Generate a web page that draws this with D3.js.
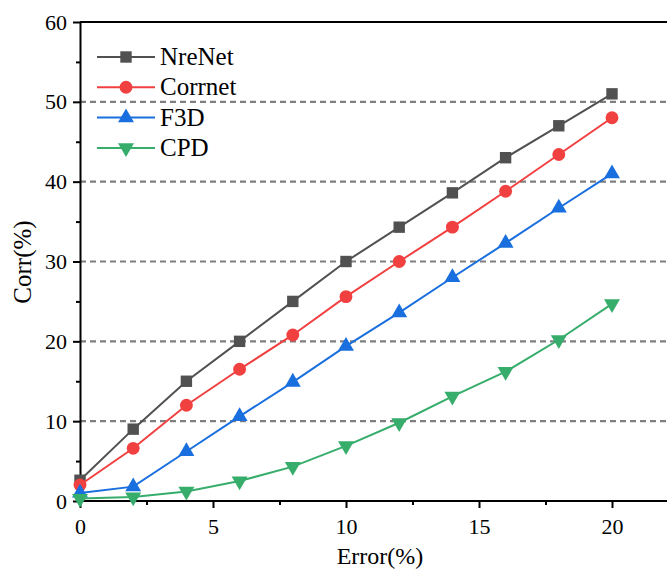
<!DOCTYPE html>
<html>
<head>
<meta charset="utf-8">
<script src="https://cdn.jsdelivr.net/npm/d3@7"></script>
<style>
  body { margin: 0; background: #fff; }
  svg text { font-family: "Liberation Serif", "Times New Roman", serif; fill: #000; }
</style>
</head>
<body>
<div class="chart"></div>
<script>
// values
let errors = [0, 2, 4, 6, 8, 10, 12, 14, 16, 18, 20];
let nrenet = [2.6, 9, 15, 20, 25, 30, 34.3, 38.6, 43, 47, 51];
let corrnet = [2, 6.6, 12, 16.5, 20.8, 25.6, 30, 34.3, 38.8, 43.4, 48];
let f3d = [1, 1.8, 6.2, 10.6, 14.9, 19.4, 23.6, 28, 32.3, 36.7, 41];
let cpd = [0.3, 0.5, 1.2, 2.5, 4.3, 6.9, 9.8, 13.1, 16.2, 20.2, 24.7];
let seriesNames = ["NreNet", "Corrnet", "F3D", "CPD"];
let xTicks = [0, 5, 10, 15, 20];
let yTicks = [0, 10, 20, 30, 40, 50, 60];
let gridVals = [10, 20, 30, 40, 50];

const width = 667, height = 569;
let margin = {top: 22, left: 80, bottom: 68};

const series = [
  {name: seriesNames[0], vals: nrenet, color: "#515151", sym: d3.symbolSquare, size: 130},
  {name: seriesNames[1], vals: corrnet, color: "#F14040", sym: d3.symbolCircle, size: 130},
  {name: seriesNames[2], vals: f3d, color: "#1A6FDF", sym: d3.symbolTriangle, size: 110},
  {name: seriesNames[3], vals: cpd, color: "#37AD6B", sym: d3.symbolTriangle, size: 110, flip: true}
];

const svg = d3.select(".chart").append("svg")
  .attr("width", width).attr("height", height);

// axis runs off the right edge like in the original
let x = d3.scaleLinear().domain([0, 20]).range([margin.left, margin.left + 532]);
let y = d3.scaleLinear().domain([0, 60]).range([height - margin.bottom, margin.top]);

// dashed grid
svg.append("g").selectAll("line")
  .data(gridVals).enter().append("line")
  .attr("x1", margin.left).attr("x2", width)
  .attr("y1", d => y(d)).attr("y2", d => y(d))
  .attr("stroke", "#7f7f7f").attr("stroke-width", 2.2)
  .attr("stroke-dasharray", "6,4");

// top border
svg.append("line")
  .attr("x1", margin.left).attr("x2", width)
  .attr("y1", y(60)).attr("y2", y(60))
  .attr("stroke", "#000").attr("stroke-width", 2);

// x axis
let xAxis = svg.append("g")
  .attr("transform", "translate(0," + y(0) + ")")
  .call(d3.axisBottom(x).tickValues(xTicks).tickSize(7).tickPadding(10).tickSizeOuter(0));
svg.append("g")
  .attr("transform", "translate(0," + y(0) + ")")
  .call(d3.axisBottom(x).tickValues([2.5, 7.5, 12.5, 17.5]).tickSize(4).tickFormat("").tickSizeOuter(0))
  .select(".domain").remove();
xAxis.select(".domain").attr("d", "M" + margin.left + ",0H" + width);

// y axis
let yAxis = svg.append("g")
  .attr("transform", "translate(" + margin.left + ",0)")
  .call(d3.axisLeft(y).tickValues(yTicks).tickSize(7).tickPadding(6).tickSizeOuter(0));
svg.append("g")
  .attr("transform", "translate(" + margin.left + ",0)")
  .call(d3.axisLeft(y).tickValues([5, 15, 25, 35, 45, 55]).tickSize(4).tickFormat("").tickSizeOuter(0))
  .select(".domain").remove();

svg.selectAll(".domain, .tick line").attr("stroke", "#000").attr("stroke-width", 2);
svg.selectAll(".tick text")
  .style("font-family", "'Liberation Serif', serif")
  .style("font-size", "22px");

// axis titles
svg.append("text")
  .attr("x", 380).attr("y", 564)
  .attr("text-anchor", "middle")
  .style("font-size", "24px")
  .text("Error(%)");
svg.append("text")
  .attr("transform", "translate(31,262) rotate(-90)")
  .attr("text-anchor", "middle")
  .style("font-size", "25px")
  .text("Corr(%)");

// lines and markers
let line = d3.line().x((d, i) => x(errors[i])).y(d => y(d));

series.forEach(s => {
  svg.append("path")
    .datum(s.vals)
    .attr("d", line)
    .attr("fill", "none")
    .attr("stroke", s.color)
    .attr("stroke-width", 2);
  svg.append("g").selectAll("path")
    .data(s.vals).enter().append("path")
    .attr("d", d3.symbol().type(s.sym).size(s.size))
    .attr("transform", (d, i) => "translate(" + x(errors[i]) + "," + y(d) + ")" + (s.flip ? " rotate(180)" : ""))
    .attr("fill", s.color);
});

// legend
let leg = svg.append("g").attr("transform", "translate(97,57)");
series.forEach((s, i) => {
  let g = leg.append("g").attr("transform", "translate(0," + (i * 30.3) + ")");
  g.append("line").attr("x1", 0).attr("x2", 58).attr("y1", 0).attr("y2", 0)
    .attr("stroke", s.color).attr("stroke-width", 2);
  g.append("path")
    .attr("d", d3.symbol().type(s.sym).size(s.size))
    .attr("transform", "translate(29,0)" + (s.flip ? " rotate(180)" : ""))
    .attr("fill", s.color);
  g.append("text").attr("x", 63).attr("y", 8)
    .style("font-size", "25px")
    .text(s.name);
});
</script>
</body>
</html>
